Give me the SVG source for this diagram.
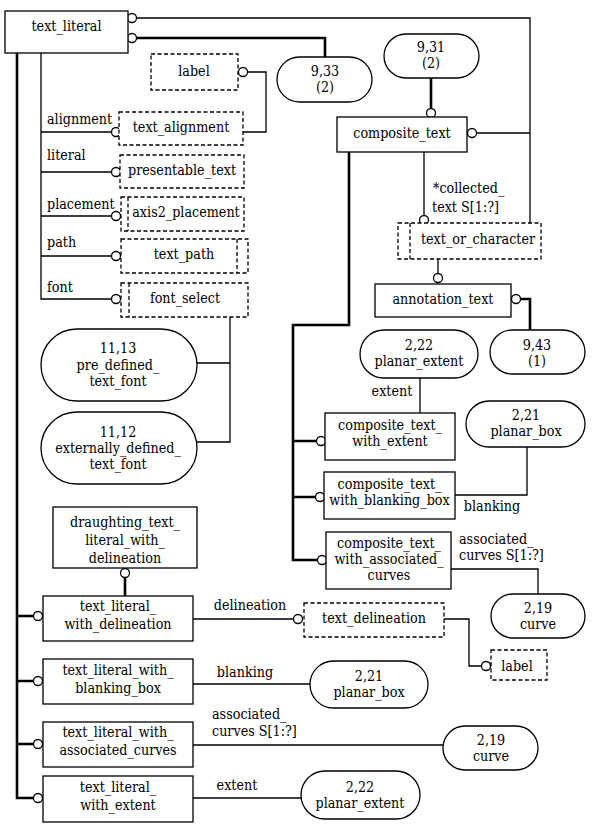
<svg xmlns="http://www.w3.org/2000/svg" width="594" height="829" viewBox="0 0 594 829">
<style>
text{font-family:"DejaVu Serif Condensed","DejaVu Serif",serif;font-stretch:condensed;font-size:14.2px;fill:#000}
.m{text-anchor:middle}
.box{fill:#fff;stroke:#000;stroke-width:1.3}
.dbox{fill:#fff;stroke:#000;stroke-width:1.3;stroke-dasharray:4 2.5}
.dl{fill:none;stroke:#000;stroke-width:1.3;stroke-dasharray:4 2.5}
.thin{fill:none;stroke:#000;stroke-width:1.3}
.thick{fill:none;stroke:#000;stroke-width:2.6}
.c{fill:#fff;stroke:#000;stroke-width:1.3}
</style>
<rect width="594" height="829" fill="#fff"/>
<g id="connectors">
<path class="thin" d="M136.5,18H530V223M476.5,133H530"/>
<path class="thick" d="M136.5,38H325V57"/>
<path class="thick" d="M17,53V798H33.5M17,616H33.5M17,681H33.5M17,744H33.5"/>
<path class="thin" d="M41,53V299H111.5M41,132H111.5M41,172H111.5M41,216H111.5M41,256H111.5"/>
<path class="thin" d="M247.5,72H266V132H243"/>
<path class="thin" d="M230,317V442H197M230,363H197"/>
<path class="thick" d="M431,78V108.5"/>
<path class="thin" d="M424,152V215.5"/>
<path class="thin" d="M438,259V273.5"/>
<path class="thick" d="M520.5,299H530V330"/>
<path class="thick" d="M349,152V325H293V560H317.5M293,441H316.5M293,497H315.5"/>
<path class="thin" d="M420,378V413"/>
<path class="thin" d="M527,447V495H455"/>
<path class="thin" d="M451,569H538V594"/>
<path class="thick" d="M125,577.5V596"/>
<path class="thin" d="M193,619H293.5"/>
<path class="thin" d="M444,619H469V666H481.5"/>
<path class="thin" d="M193,684H310"/>
<path class="thin" d="M193,745H443"/>
<path class="thin" d="M193,798H301"/>
<circle class="c" cx="132" cy="18" r="4.5"/>
<circle class="c" cx="132" cy="38" r="4.5"/>
<circle class="c" cx="243" cy="72" r="4.5"/>
<circle class="c" cx="116" cy="132" r="4.5"/>
<circle class="c" cx="116" cy="172" r="4.5"/>
<circle class="c" cx="116" cy="216" r="4.5"/>
<circle class="c" cx="116" cy="256" r="4.5"/>
<circle class="c" cx="116" cy="299" r="4.5"/>
<circle class="c" cx="431" cy="113" r="4.5"/>
<circle class="c" cx="472" cy="133" r="4.5"/>
<circle class="c" cx="424" cy="220" r="4.5"/>
<circle class="c" cx="438" cy="278" r="4.5"/>
<circle class="c" cx="516" cy="299" r="4.5"/>
<circle class="c" cx="321" cy="441" r="4.5"/>
<circle class="c" cx="320" cy="497" r="4.5"/>
<circle class="c" cx="322" cy="560" r="4.5"/>
<circle class="c" cx="125" cy="573" r="4.5"/>
<circle class="c" cx="38" cy="616" r="4.5"/>
<circle class="c" cx="38" cy="681" r="4.5"/>
<circle class="c" cx="38" cy="744" r="4.5"/>
<circle class="c" cx="38" cy="798" r="4.5"/>
<circle class="c" cx="298" cy="619" r="4.5"/>
<circle class="c" cx="486" cy="666" r="4.5"/>
<text x="47" y="124">alignment</text>
<text x="47" y="160">literal</text>
<text x="47" y="209">placement</text>
<text x="47" y="247">path</text>
<text x="47" y="292">font</text>
<text x="433" y="193">*collected_</text>
<text x="432" y="212">text S[1:?]</text>
<text class="m" x="392" y="396">extent</text>
<text class="m" x="492" y="511">blanking</text>
<text x="459" y="544">associated_</text>
<text x="459" y="560">curves S[1:?]</text>
<text class="m" x="250" y="610">delineation</text>
<text class="m" x="245" y="677">blanking</text>
<text x="212" y="719">associated_</text>
<text x="212" y="736">curves S[1:?]</text>
<text class="m" x="237" y="790">extent</text>
</g>
<g id="text_literal"><rect class="box" x="5" y="11" width="123" height="42"/><text class="m" x="66.5" y="31">text_literal</text></g>
<g id="label1"><rect class="dbox" x="151" y="54" width="87" height="36"/><text class="m" x="194" y="76">label</text></g>
<g id="text_alignment"><rect class="dbox" x="119" y="112" width="124" height="33"/><text class="m" x="181" y="132">text_alignment</text></g>
<g id="presentable_text"><rect class="dbox" x="120" y="155" width="124" height="33"/><text class="m" x="182" y="175">presentable_text</text></g>
<g id="axis2_placement"><rect class="dbox" x="121" y="197" width="123" height="34"/><path class="dl" d="M128,197V231"/><text class="m" x="186" y="217">axis2_placement</text></g>
<g id="text_path"><rect class="dbox" x="121" y="239" width="127" height="34"/><path class="dl" d="M237,239V273"/><text class="m" x="184" y="259">text_path</text></g>
<g id="font_select"><rect class="dbox" x="121" y="283" width="127" height="34"/><path class="dl" d="M129,283V317"/><text class="m" x="185" y="303">font_select</text></g>
<g id="pre_defined_text_font"><rect class="box" x="41" y="329" width="156" height="72" rx="36"/><text class="m" x="118" y="353">11,13</text><text class="m" x="118" y="370">pre_defined_</text><text class="m" x="118" y="386">text_font</text></g>
<g id="externally_defined_text_font"><rect class="box" x="41" y="412" width="156" height="72" rx="36"/><text class="m" x="118" y="437">11,12</text><text class="m" x="118" y="453">externally_defined_</text><text class="m" x="118" y="469">text_font</text></g>
<g id="ref_9_33"><rect class="box" x="277" y="57" width="95" height="45" rx="22.5"/><text class="m" x="325" y="76">9,33</text><text class="m" x="325" y="92">(2)</text></g>
<g id="ref_9_31"><rect class="box" x="384" y="34" width="95" height="44" rx="22"/><text class="m" x="431" y="52">9,31</text><text class="m" x="431" y="68">(2)</text></g>
<g id="composite_text"><rect class="box" x="337" y="117" width="130" height="35"/><text class="m" x="402" y="138">composite_text</text></g>
<g id="text_or_character"><rect class="dbox" x="398" y="223" width="143" height="36"/><path class="dl" d="M410,223V259"/><text class="m" x="478" y="244">text_or_character</text></g>
<g id="annotation_text"><rect class="box" x="375" y="284" width="136" height="33"/><text class="m" x="443" y="304">annotation_text</text></g>
<g id="ref_9_43"><rect class="box" x="490" y="330" width="95" height="44" rx="22"/><text class="m" x="537" y="350">9,43</text><text class="m" x="537" y="366">(1)</text></g>
<g id="planar_extent1"><rect class="box" x="360" y="330" width="118" height="48" rx="24"/><text class="m" x="419" y="350">2,22</text><text class="m" x="419" y="366">planar_extent</text></g>
<g id="composite_text_with_extent"><rect class="box" x="325" y="413" width="130" height="47"/><text class="m" x="390" y="430">composite_text_</text><text class="m" x="390" y="446">with_extent</text></g>
<g id="planar_box1"><rect class="box" x="466" y="401" width="119" height="46" rx="23"/><text class="m" x="526" y="420">2,21</text><text class="m" x="526" y="436">planar_box</text></g>
<g id="composite_text_with_blanking_box"><rect class="box" x="324" y="472" width="131" height="47"/><text class="m" x="389.5" y="489">composite_text_</text><text class="m" x="389.5" y="505">with_blanking_box</text></g>
<g id="composite_text_with_associated_curves"><rect class="box" x="326" y="532" width="125" height="57"/><text class="m" x="389" y="548">composite_text_</text><text class="m" x="389" y="564">with_associated_</text><text class="m" x="389" y="580">curves</text></g>
<g id="curve1"><rect class="box" x="491" y="594" width="94" height="44" rx="22"/><text class="m" x="538" y="613">2,19</text><text class="m" x="538" y="629">curve</text></g>
<g id="draughting_text_literal_with_delineation"><rect class="box" x="53" y="507" width="144" height="61"/><text class="m" x="125" y="527">draughting_text_</text><text class="m" x="125" y="545">literal_with_</text><text class="m" x="125" y="563">delineation</text></g>
<g id="text_literal_with_delineation"><rect class="box" x="43" y="596" width="150" height="45"/><text class="m" x="118" y="611">text_literal_</text><text class="m" x="118" y="629">with_delineation</text></g>
<g id="text_delineation"><rect class="dbox" x="304" y="603" width="140" height="34"/><text class="m" x="374" y="623">text_delineation</text></g>
<g id="label2"><rect class="dbox" x="491" y="650" width="56" height="30"/><text class="m" x="517" y="671">label</text></g>
<g id="text_literal_with_blanking_box"><rect class="box" x="43" y="659" width="150" height="45"/><text class="m" x="118" y="675">text_literal_with_</text><text class="m" x="118" y="693">blanking_box</text></g>
<g id="planar_box2"><rect class="box" x="310" y="661" width="118" height="47" rx="23.5"/><text class="m" x="369" y="681">2,21</text><text class="m" x="369" y="697">planar_box</text></g>
<g id="text_literal_with_associated_curves"><rect class="box" x="43" y="722" width="150" height="45"/><text class="m" x="118" y="737">text_literal_with_</text><text class="m" x="118" y="755">associated_curves</text></g>
<g id="curve2"><rect class="box" x="443" y="726" width="95" height="44" rx="22"/><text class="m" x="491" y="745">2,19</text><text class="m" x="491" y="761">curve</text></g>
<g id="text_literal_with_extent"><rect class="box" x="43" y="776" width="150" height="46"/><text class="m" x="118" y="792">text_literal_</text><text class="m" x="118" y="810">with_extent</text></g>
<g id="planar_extent2"><rect class="box" x="301" y="771" width="119" height="48" rx="24"/><text class="m" x="360" y="792">2,22</text><text class="m" x="360" y="808">planar_extent</text></g>
</svg>
